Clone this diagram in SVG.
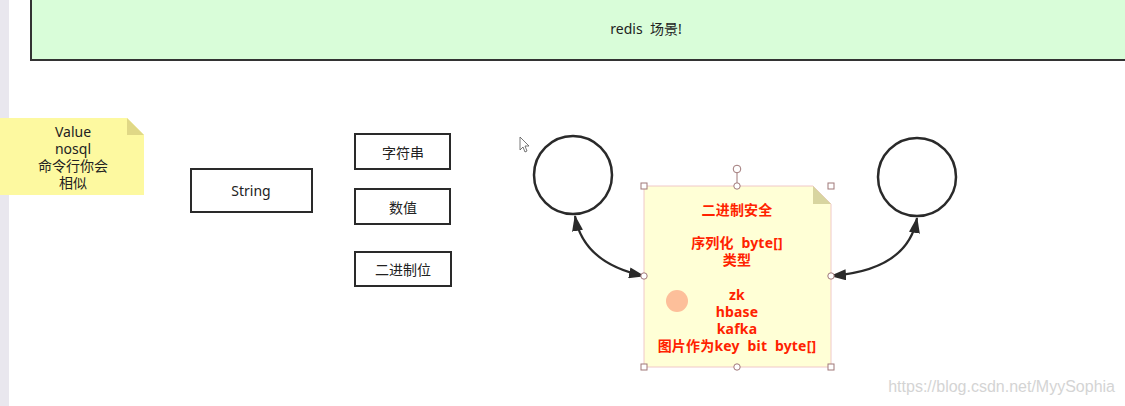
<svg xmlns="http://www.w3.org/2000/svg" width="1125" height="406" viewBox="0 0 1125 406">
<defs>
<style>
.box{fill:#ffffff;stroke:#2a2a2a;stroke-width:2}
.lbl{font-family:"Noto Sans","Noto Sans CJK SC",sans-serif;font-size:14px;fill:#222;text-anchor:middle;dominant-baseline:central}
.red{font-family:"Noto Sans","Noto Sans CJK SC",sans-serif;font-size:14px;font-weight:bold;fill:#ff2200;text-anchor:middle;dominant-baseline:central;white-space:pre;letter-spacing:0.2px}
.circ{fill:#ffffff;stroke:#2a2a2a;stroke-width:2.5}
.conn{fill:none;stroke:#2a2a2a;stroke-width:2.2}
.hs{fill:#ffffff;stroke:#a07878;stroke-width:1}
</style>
<marker id="ah" viewBox="0 0 16 11" refX="15" refY="5.5" markerWidth="16" markerHeight="11" markerUnits="userSpaceOnUse" orient="auto-start-reverse">
<path d="M0,0 L16,5.5 L0,11 Z" fill="#2a2a2a"/>
</marker>
</defs>
<rect x="0" y="0" width="1125" height="406" fill="#ffffff"/>
<rect x="0" y="0" width="9" height="406" fill="#e9e7ee"/>
<g id="banner">
<rect x="31" y="-2" width="1100" height="62" fill="#d9fdd9" stroke="#333" stroke-width="2"/>
<text class="lbl" x="646" y="28" style="white-space:pre">redis  场景!</text>
</g>
<g id="note-left">
<path d="M0,118 L127,118 L144,135 L144,195 L0,195 Z" fill="#fdf9a0"/>
<path d="M127,118 L144,135 L127,135 Z" fill="#e0d886"/>
<text class="lbl" x="73" y="131">Value</text>
<text class="lbl" x="73" y="148">nosql</text>
<text class="lbl" x="73" y="165">命令行你会</text>
<text class="lbl" x="73" y="182">相似</text>
</g>
<g id="string">
<rect class="box" x="191" y="169" width="121" height="43"/>
<text class="lbl" x="251" y="190">String</text>
</g>
<g id="zifuchuan">
<rect class="box" x="355" y="134" width="95" height="35"/>
<text class="lbl" x="403" y="152">字符串</text>
</g>
<g id="shuzhi">
<rect class="box" x="355" y="189" width="95" height="35"/>
<text class="lbl" x="403" y="207">数值</text>
</g>
<g id="erjinzhiwei">
<rect class="box" x="355" y="252" width="96" height="34"/>
<text class="lbl" x="403" y="269">二进制位</text>
</g>
<g id="circle-left">
<circle class="circ" cx="573" cy="175" r="39"/>
</g>
<g id="circle-right">
<circle class="circ" cx="917" cy="177" r="39"/>
</g>
<g id="cursor">
<path d="M520,137 L520,150 L523,147 L525,152 L527,151 L525,146 L529,146 Z" fill="#ffffff" stroke="#555" stroke-width="0.8"/>
</g>
<g id="connectors">
<path class="conn" d="M575,216 Q583,263 644,276" marker-start="url(#ah)" marker-end="url(#ah)"/>
<path class="conn" d="M831,276 Q908,270 917,218" marker-start="url(#ah)" marker-end="url(#ah)"/>
</g>
<g id="note-center">
<path d="M644,186 L813,186 L831,204 L831,367 L644,367 Z" fill="#ffffd6" stroke="#f0c8c8" stroke-width="1"/>
<path d="M813,186 L831,204 L813,204 Z" fill="#d8d5a0"/>
<circle cx="677" cy="301" r="11" fill="#fdbf9a"/>
<text class="red" x="737" y="209">二进制安全</text>
<text class="red" x="737" y="242">序列化  byte[]</text>
<text class="red" x="737" y="259">类型</text>
<text class="red" x="737" y="294">zk</text>
<text class="red" x="737" y="311">hbase</text>
<text class="red" x="737" y="328">kafka</text>
<text class="red" x="737" y="345">图片作为key  bit  byte[]</text>
<line x1="737" y1="173" x2="737" y2="186" stroke="#a07878" stroke-width="1"/>
<circle class="hs" cx="737" cy="169" r="3.8"/>
<rect class="hs" x="641" y="183" width="6" height="6"/>
<rect class="hs" x="828" y="183" width="6" height="6"/>
<rect class="hs" x="641" y="364" width="6" height="6"/>
<rect class="hs" x="828" y="364" width="6" height="6"/>
<circle class="hs" cx="737" cy="186" r="3.2"/>
<circle class="hs" cx="737" cy="367" r="3.2"/>
<circle class="hs" cx="644" cy="276" r="3.2"/>
<circle class="hs" cx="831" cy="276" r="3.2"/>
</g>
<text x="1115" y="386" font-family="Liberation Sans, sans-serif" font-size="16" fill="#d4d4d4" text-anchor="end" dominant-baseline="central">https://blog.csdn.net/MyySophia</text>
</svg>
